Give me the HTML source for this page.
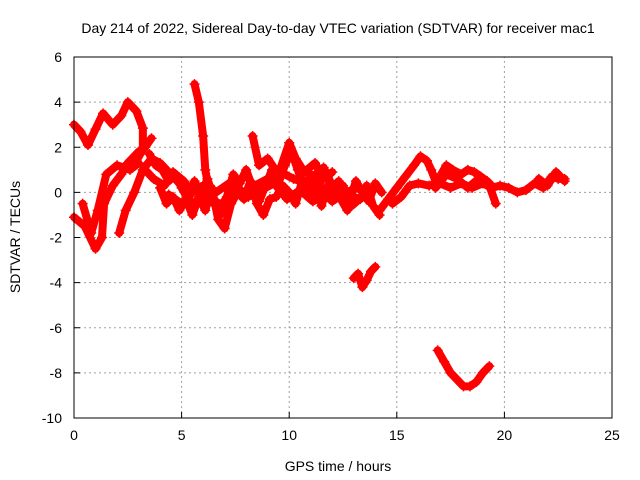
<!DOCTYPE html>
<html><head><meta charset="utf-8"><style>
body{margin:0;background:#fff}
svg{display:block;font-family:"Liberation Sans",sans-serif}
</style></head><body>
<svg id="chart" width="640" height="480">
<text x="338" y="33" text-anchor="middle" font-size="14">Day 214 of 2022, Sidereal Day-to-day VTEC variation (SDTVAR) for receiver mac1</text>
<text x="338" y="471" text-anchor="middle" font-size="14">GPS time / hours</text>
<text x="20" y="237" text-anchor="middle" font-size="14" transform="rotate(-90 20 237)">SDTVAR / TECUs</text>
<g id="grid"></g><g id="marks"></g>
<rect x="74" y="57" width="538" height="361" fill="none" stroke="#000"/>
</svg>
<script>
const xTicks=[0,5,10,15,20,25];
const yTicks=[-10,-8,-6,-4,-2,0,2,4,6];
const seriesUpperArc=[[0,3.0],[0.3,2.7],[0.65,2.1],[1.0,2.8],[1.35,3.5],[1.8,3.0],[2.2,3.4],[2.5,4.0],[2.9,3.6],[3.2,2.85],[3.2,1.9],[2.9,1.4],[2.5,1.2]];
const seriesRising=[[0,-1.1],[0.5,-1.5],[1.0,-2.5],[1.3,-2.0],[1.4,-0.5],[1.8,0.3],[2.2,0.8],[2.5,1.3],[3.0,1.8],[3.3,2.0],[3.6,2.4]];
const seriesRising2=[[0.4,-0.5],[0.8,-1.8],[1.1,-0.8],[1.5,0.8],[2.0,1.2],[2.6,1.0],[3.0,1.3]];
const seriesArm=[[2.1,-1.8],[2.4,-0.8],[2.8,0],[3.2,1.0],[3.6,1.5],[4.0,1.3],[4.5,0.8],[5.0,0.3],[5.5,-0.5]];
const seriesSpike=[[5.6,4.8],[5.8,4.0],[6.0,2.5],[6.1,1.0],[6.3,0.0],[6.5,-0.5]];
const seriesA=[[3.5,1.7],[3.8,1.2],[4.1,1.0],[4.4,0.5],[4.7,0.8],[5.0,0.2],[5.3,-0.3],[5.6,0.5],[5.9,-0.2],[6.2,0.6],[6.5,-0.3],[6.8,-1.0],[7.1,-0.2],[7.4,0.8],[7.7,0.4],[8.0,1.0],[8.3,0.2],[8.6,-0.4],[8.9,0.3],[9.2,1.0],[9.5,0.4],[9.8,1.2],[10.1,1.8],[10.4,1.0],[10.7,0.2],[11.0,0.8],[11.3,-0.2],[11.6,1.1],[11.9,0.5],[12.2,-0.2],[12.5,0.3],[12.8,-0.4],[13.1,0.5],[13.4,0.0],[13.7,-0.4],[14.0,0.4],[14.3,0.0]];
const seriesB=[[4.0,0.2],[4.3,-0.5],[4.6,-0.2],[4.9,-0.8],[5.2,-0.3],[5.5,-1.0],[5.8,-0.2],[6.1,-0.8],[6.4,0.2],[6.7,-1.2],[7.0,-1.6],[7.3,-0.5],[7.6,0.0],[7.9,-0.3],[8.2,0.5],[8.5,-0.5],[8.8,-1.0],[9.1,-0.3],[9.4,-0.2],[9.7,0.3],[10.0,0.0],[10.3,-0.5],[10.6,0.5],[10.9,-0.2],[11.2,0.8],[11.5,-0.6],[11.8,0.3],[12.1,0.0],[12.4,-0.3],[12.7,-0.8],[13.0,-0.2],[13.3,-0.3],[13.6,0.3],[13.9,-0.6],[14.2,-1.0]];
const seriesC=[[8.3,2.5],[8.6,1.2],[9.0,1.5],[9.5,0.8],[10.0,2.2],[10.3,1.5],[10.7,0.9],[11.2,1.3],[11.6,0.6],[12.0,0.9]];
const seriesI=[[3.3,1.0],[3.7,0.6],[4.2,0.3],[4.6,0.9],[5.1,0.5],[5.4,0.1],[6.0,0.3],[6.6,0.0],[7.2,0.4],[7.8,-0.1],[8.4,0.3],[9.0,0.6],[9.6,0.9],[10.2,0.6],[10.8,0.4],[11.4,0.2],[12.0,-0.4],[12.6,0.0],[13.2,0.2],[13.8,0.1]];
const seriesJ=[[4.4,-0.1],[5.0,-0.5],[5.7,0.2],[6.2,-0.4],[6.9,-0.5],[7.5,0.3],[8.1,-0.2],[8.7,0.1],[9.3,0.4],[9.9,-0.3],[10.5,0.1],[11.1,-0.4],[11.7,-0.1],[12.3,0.5],[12.9,-0.6],[13.5,-0.1]];
const seriesD=[[14.2,-0.8],[14.6,-0.3],[15.0,0.2],[15.4,0.7],[15.8,1.2],[16.1,1.6],[16.4,1.4],[16.6,1.0],[16.8,0.5],[17.0,0.7],[17.3,1.2],[17.6,1.0],[18.0,0.8],[18.3,1.0],[18.6,0.9],[18.9,0.7],[19.2,0.5],[19.5,0.2]];
const seriesE=[[14.8,-0.5],[15.2,-0.2],[15.6,0.3],[16.0,0.4],[16.5,0.3],[17.0,0.4],[17.5,0.2],[18.0,0.4],[18.5,0.2],[19.0,0.4],[19.4,0.2],[19.8,0.3],[20.2,0.2],[20.6,0.0],[21.0,0.1],[21.4,0.4],[21.8,0.2],[22.2,0.7],[22.5,0.6],[22.8,0.6]];
const seriesF=[[16.8,0.2],[17.3,0.8],[17.8,0.6],[18.3,0.2],[18.8,0.6],[19.3,0.3],[19.6,-0.5]];
const seriesK=[[21.6,0.6],[22.0,0.3],[22.4,0.9],[22.8,0.5]];
const seriesG=[[13.0,-3.8],[13.2,-3.6],[13.4,-4.2],[13.6,-3.9],[13.8,-3.5],[14.0,-3.3]];
const seriesH=[[16.9,-7.0],[17.2,-7.5],[17.5,-8.0],[17.8,-8.3],[18.1,-8.6],[18.4,-8.6],[18.7,-8.4],[19.0,-8.0],[19.3,-7.7]];
const allSeries=[seriesUpperArc,seriesRising,seriesRising2,seriesArm,seriesSpike,seriesA,seriesB,seriesC,seriesI,seriesJ,seriesD,seriesE,seriesF,seriesK,seriesG,seriesH];

const NS="http://www.w3.org/2000/svg";
const X0=74,X1=612,Y0=418,Y1=57;
function sx(v){return X0+(v-0)/(25-0)*(X1-X0);}
function sy(v){return Y0-(v+10)/(16)*(Y0-Y1);}
const grid=document.getElementById('grid'),marks=document.getElementById('marks');
function mk(tag,attrs,parent){const e=document.createElementNS(NS,tag);for(const k in attrs)e.setAttribute(k,attrs[k]);parent.appendChild(e);return e;}
xTicks.forEach(t=>{
  const x=sx(t);
  if(t>0&&t<25){const g=mk('line',{x1:x,x2:x,y1:Y0,y2:Y1,stroke:'#a0a0a0','stroke-dasharray':'2,3'},grid);
  
  }
  const tk=mk('line',{x1:x,x2:x,y1:Y0,y2:Y0-6,stroke:'#000'},grid);
  
  
  const tx=mk('text',{x:x,y:Y0+22,'text-anchor':'middle','font-size':14},grid);tx.textContent=t;
  
  
});
yTicks.forEach(t=>{
  const y=sy(t);
  if(t>-10&&t<6){const g=mk('line',{x1:X0,x2:X1,y1:y,y2:y,stroke:'#a0a0a0','stroke-dasharray':'2,3'},grid);
  
  }
  const tk=mk('line',{x1:X0,x2:X0+6,y1:y,y2:y,stroke:'#000'},grid);
  
  
  const tx=mk('text',{x:X0-12,y:y+5,'text-anchor':'end','font-size':14},grid);tx.textContent=t;
  
  
});
allSeries.forEach(s=>{
  const pl=mk('polyline',{points:s.map(p=>sx(p[0])+','+sy(p[1])).join(' '),fill:'none',stroke:'#ff0000','stroke-width':8,'stroke-linejoin':'round','stroke-linecap':'round'},marks);
  
  
  s.forEach(p=>{
    const x=sx(p[0]),y=sy(p[1]);
    const m=mk('path',{d:`M${x-5},${y}H${x+5}M${x},${y-5}V${y+5}`,stroke:'#ff0000','stroke-width':1.5},marks);
    
    
  });
});
</script>
</body></html>
